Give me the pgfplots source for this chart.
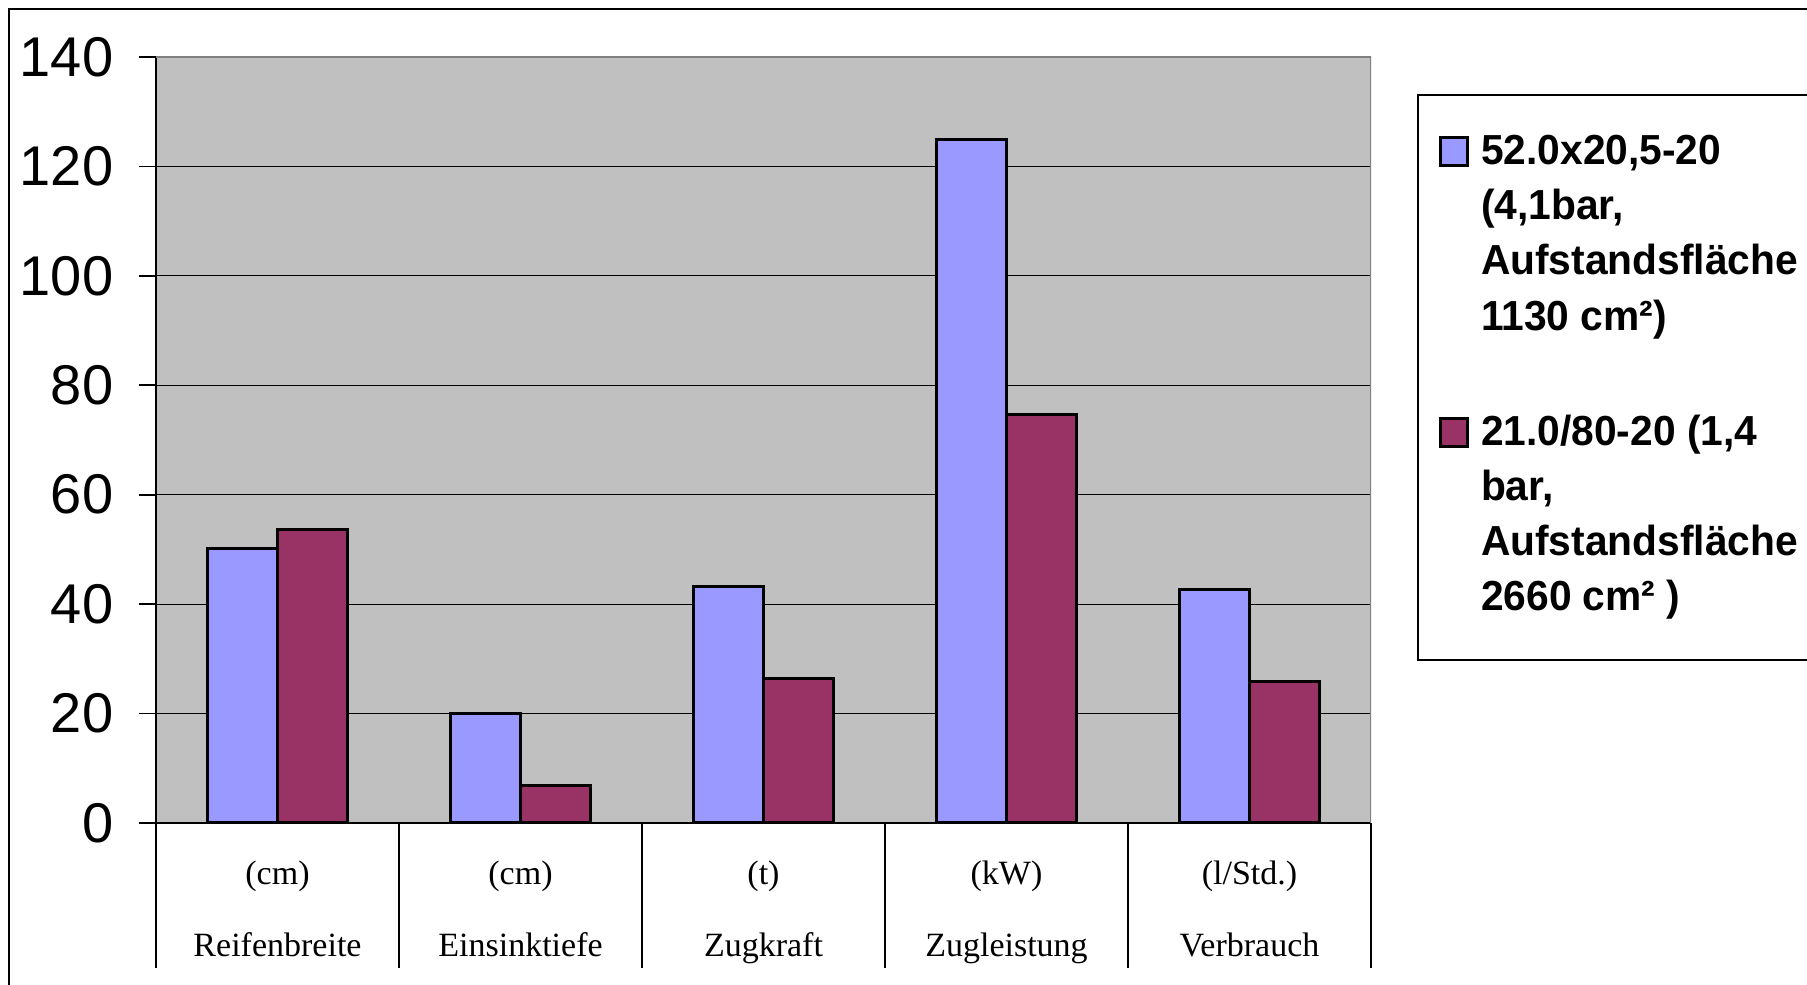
\documentclass[border=0pt]{standalone}
\usepackage{fontspec}
\usepackage{pgfplots}
\usepackage{pgfplotstable}
\pgfplotsset{compat=1.18}
\setmainfont{Liberation Serif}
\setsansfont{Liberation Sans}
\newfontfamily\legfont{Liberation Sans}[FakeStretch=0.97]
\definecolor{barblue}{HTML}{9999FF}
\definecolor{barplum}{HTML}{993366}
\definecolor{plotgray}{HTML}{C0C0C0}
\definecolor{framegray}{HTML}{808080}

% tyre comparison: a = 52.0x20,5-20, b = 21.0/80-20
\pgfplotstableread{
x  a     b
0  50.1  53.6
1  20.0   6.8
2  43.3  26.5
3 125.0  74.6
4  42.7  25.8
}\tyres

\begin{document}
\begin{tikzpicture}
\useasboundingbox (0,0) rectangle (451.75pt,246pt);
\clip (0,0) rectangle (451.75pt,246pt);
\draw[line width=0.4pt] (2.25pt,243.75pt) rectangle (470pt,-20pt);
\begin{axis}[
  at={(39pt,40.25pt)}, anchor=south west,
  scale only axis, width=303.75pt, height=191.5pt,
  xmin=-0.5, xmax=4.5, ymin=0, ymax=140,
  axis lines=left, axis line style={-, black, line width=0.5pt},
  axis background/.style={fill=plotgray},
  ybar=0pt, bar width=17.5pt,
  ytick={0,20,...,140},
  yticklabels={0,20,40,60,80,100,120,140},
  ymajorgrids, grid style={black, line width=0.3pt},
  tick align=outside,
  major tick length=4.25pt,
  major x tick style={draw=none},
  major y tick style={black, line width=0.4pt},
  xtick={0,...,4},
  minor xtick={-0.5,0.5,...,4.5},
  minor tick length=36.25pt,
  minor x tick style={black, line width=0.35pt},
  xticklabels={{(cm)\\Reifenbreite},{(cm)\\Einsinktiefe},{(t)\\Zugkraft},{(kW)\\Zugleistung},{(l/Std.)\\Verbrauch}},
  x tick label style={align=center, font=\fontsize{8.5pt}{18pt}\selectfont, inner sep=0pt, anchor=north, yshift=-5.1pt},
  y tick label style={font=\sffamily\fontsize{14pt}{17pt}\selectfont, inner sep=0pt, anchor=east, xshift=-6.25pt},
  legend style={at={(1.0379,0.9517)}, anchor=north west, draw=black, line width=0.4pt, fill=white,
    inner xsep=5.3pt, inner ysep=10.1pt, row sep=19pt, column sep=3pt,
    cells={anchor=base west},
    font=\legfont\bfseries\fontsize{10.5pt}{13.8pt}\selectfont,
    nodes={inner sep=0pt, text depth=}},
  legend image code/.code={\draw[#1, line width=0.75pt] (0pt,-0.25pt) rectangle (6.75pt,6.75pt);},
]
\addplot[fill=barblue, draw=black, line width=0.75pt] table[x=x, y=a]{\tyres};
\addlegendentry{\parbox[t]{90pt}{\raggedright 52.0x20,5-20\\(4,1bar,\\Aufstandsfläche\\1130 cm²)}}
\addplot[fill=barplum, draw=black, line width=0.75pt] table[x=x, y=b]{\tyres};
\addlegendentry{\parbox[t]{90pt}{\raggedright 21.0/80-20 (1,4\\bar,\\Aufstandsfläche\\2660 cm² )}}
\draw[framegray, line width=0.75pt] (rel axis cs:0,1) -- (rel axis cs:1,1) -- (rel axis cs:1,0);
\end{axis}
\end{tikzpicture}
\end{document}
